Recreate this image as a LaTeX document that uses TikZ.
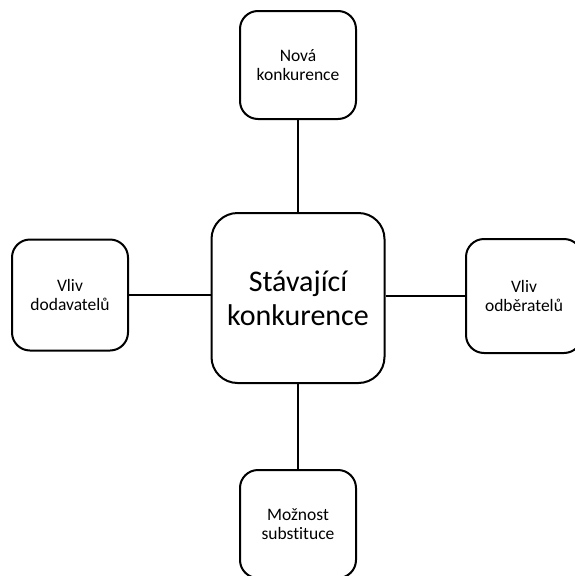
\documentclass[tikz,border=0pt]{standalone}
\usepackage{fontspec}
\setmainfont{Carlito}[Ligatures=NoCommon]
\tikzset{
    box/.style={draw,line width=2pt,rounded corners=18pt,align=center,
        minimum width=116pt,minimum height=108pt,inner sep=0pt,font=\fontsize{17.5}{19.5}\selectfont},
    bigbox/.style={box,rounded corners=26pt,minimum width=173pt,minimum height=170pt,
        font=\fontsize{30}{34}\selectfont},
    link/.style={line width=2pt}
}
\begin{document}
\begin{tikzpicture}[x=1pt,y=-1pt]
        \useasboundingbox (0,0) rectangle (574,576);
        \node[bigbox] (stav) at (298,298) {Stávající\\konkurence};
        \node[box] (nova) at (298,65) {Nová\\konkurence};
        \node[box,minimum height=111pt] (dod) at (70,295) {Vliv\\dodavatelů};
        \node[box,minimum height=114pt] (odb) at (524,296) {Vliv\\odběratelů};
        \node[box] (subst) at (298,524) {Možnost\\substituce};
        \draw[link] (stav) -- (nova);
        \draw[link] (stav.west |- dod) -- (dod);
        \draw[link] (stav.east |- odb) -- (odb);
        \draw[link] (stav) -- (subst);
    \end{tikzpicture}
\end{document}
